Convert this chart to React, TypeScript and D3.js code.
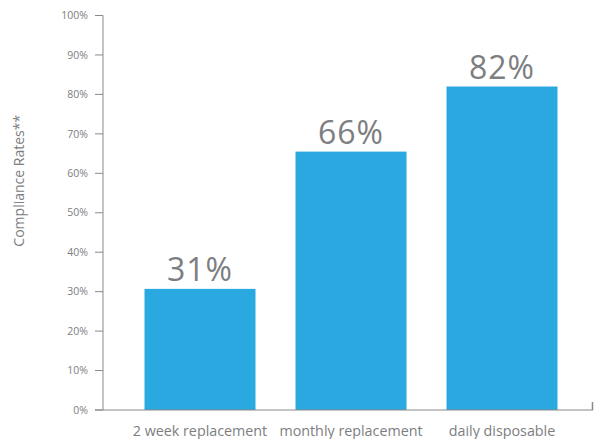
import React from "react";
import * as d3 from "d3";

const categories = ["2 week replacement", "monthly replacement", "daily disposable"];
const values = [30.7, 65.5, 82.0];
const valueLabels = ["31%", "66%", "82%"];
const yTicks = [0, 10, 20, 30, 40, 50, 60, 70, 80, 90, 100];
const yTitle = "Compliance Rates**";

const W = 595;
const H = 439;
const FONT = "'Open Sans', 'Noto Sans', sans-serif";
const GRAY = "#7d7e81";
const AXIS = "#8a8a8a";
const BLUE = "#29a9e0";

export default function App() {
  const y = d3.scaleLinear().domain([0, 100]).range([410, 15.5]);
  const x = d3
    .scaleBand<string>()
    .domain(categories)
    .range([124.5, 577.5])
    .paddingInner(0.265)
    .paddingOuter(0.1325);
  const axisX = 103;

  return (
    <svg
      width={W}
      height={H}
      style={{ position: "absolute", left: 0, top: 0, background: "#fff" }}
      fontFamily={FONT}
    >
      {categories.map((c, i) => (
        <rect
          key={c}
          x={x(c)!}
          y={y(values[i])}
          width={x.bandwidth()}
          height={y(0) - y(values[i])}
          fill={BLUE}
        />
      ))}
      {categories.map((c, i) => (
        <text
          key={"l" + c}
          x={x(c)! + x.bandwidth() / 2}
          y={y(values[i]) - 7.5}
          textAnchor="middle"
          fontSize={32}
          letterSpacing={1}
          fill={GRAY}
        >
          {valueLabels[i]}
        </text>
      ))}
      <line x1={axisX} x2={axisX} y1={y(100)} y2={y(0)} stroke={AXIS} strokeWidth={1} />
      {yTicks.map((t) => (
        <g key={t}>
          <line x1={95} x2={axisX} y1={y(t)} y2={y(t)} stroke={AXIS} strokeWidth={1} />
          <text
            x={88}
            y={y(t)}
            dy="0.35em"
            textAnchor="end"
            fontSize={10.5}
            fill={GRAY}
          >
            {t}%
          </text>
        </g>
      ))}
      <line x1={95} x2={593} y1={y(0)} y2={y(0)} stroke={AXIS} strokeWidth={1.2} />
      <line x1={592.5} x2={592.5} y1={y(0) - 8} y2={y(0)} stroke={AXIS} strokeWidth={1.5} />
      {categories.map((c) => (
        <text
          key={"c" + c}
          x={x(c)! + x.bandwidth() / 2}
          y={436}
          textAnchor="middle"
          fontSize={14.3}
          fill={GRAY}
        >
          {c}
        </text>
      ))}
      <text
        transform={`translate(24,${(y(0) + y(100)) / 2 - 32}) rotate(-90)`}
        textAnchor="middle"
        fontSize={14}
        fill={GRAY}
      >
        {yTitle}
      </text>
    </svg>
  );
}
